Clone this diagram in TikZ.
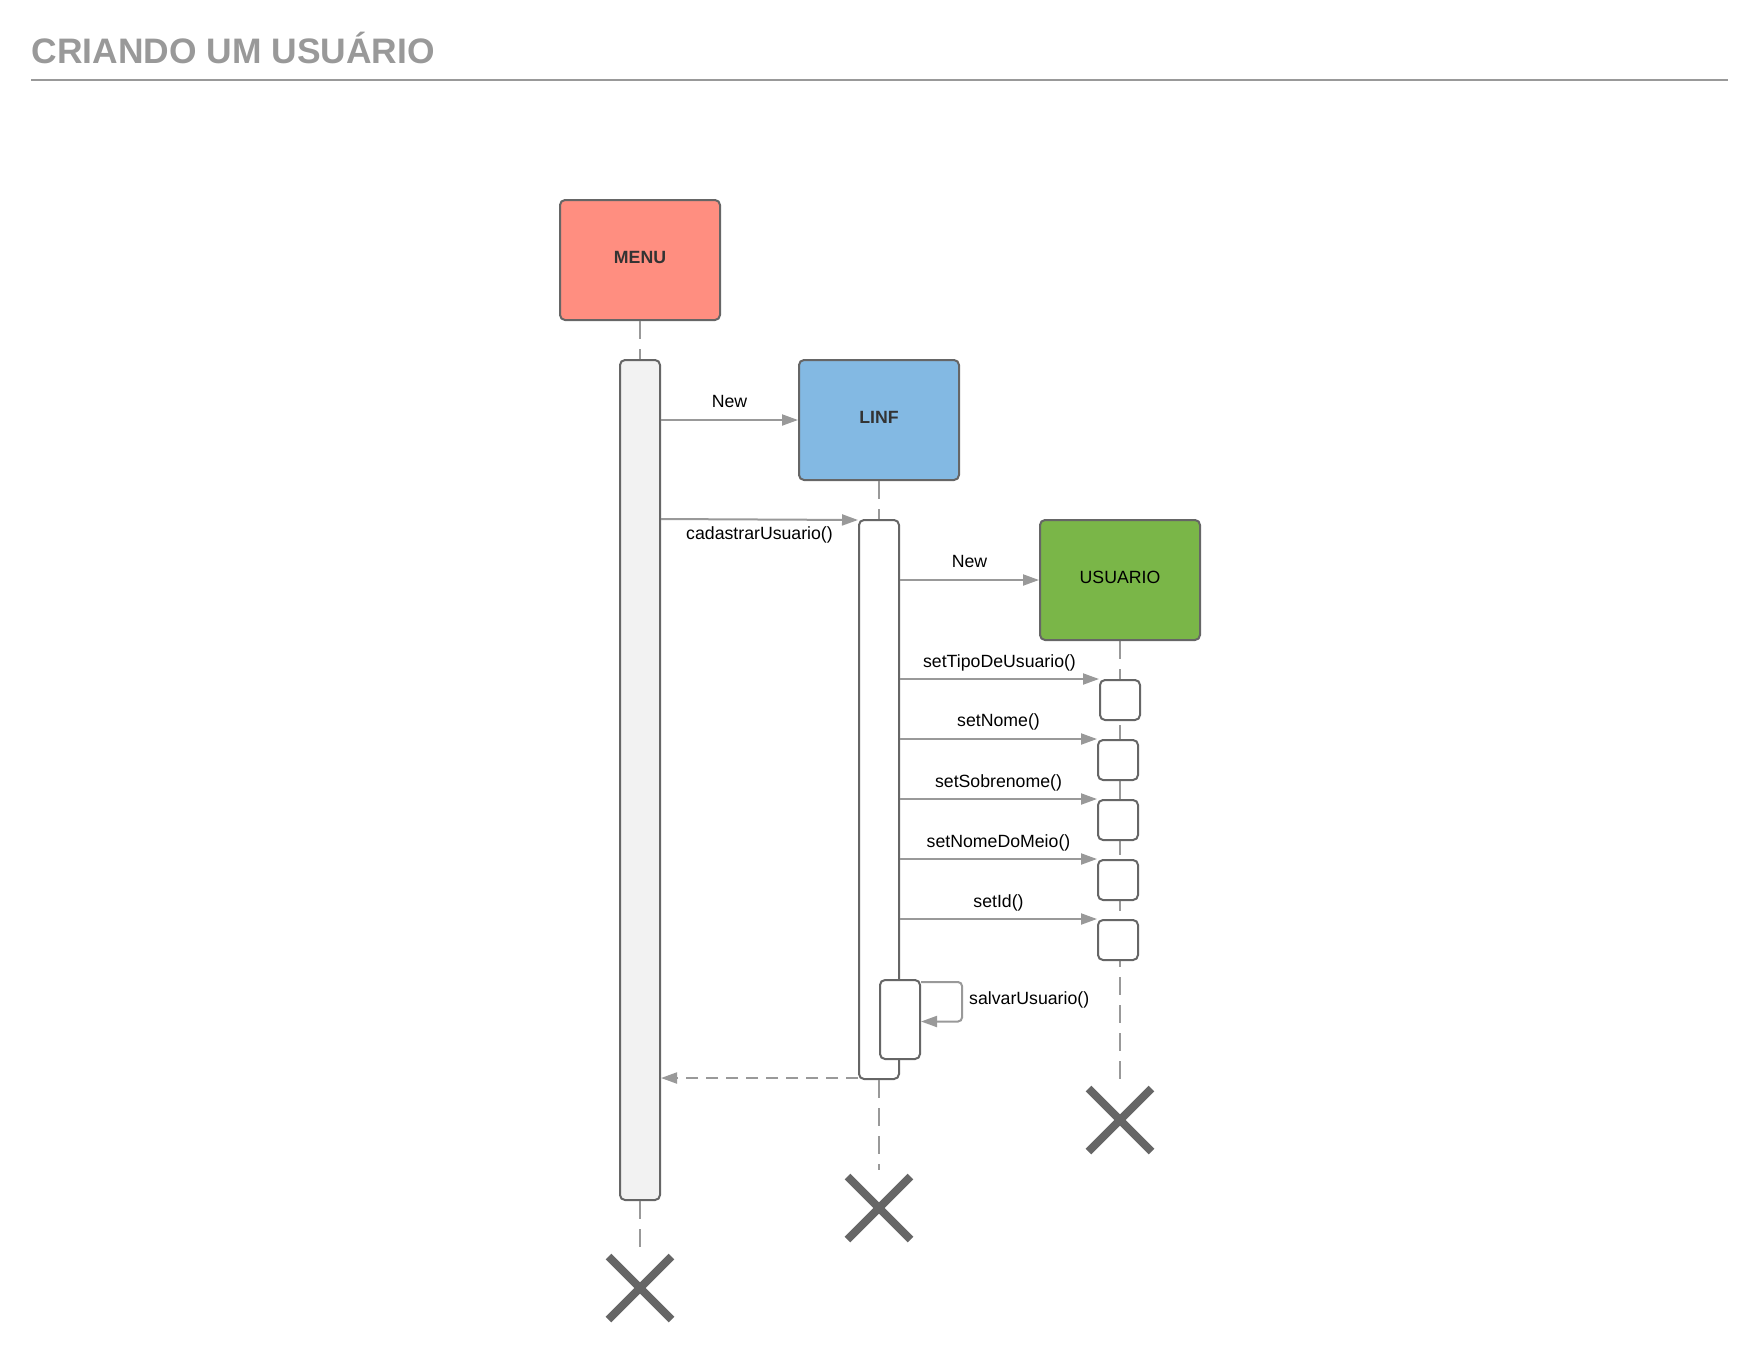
\documentclass[tikz,border=0pt]{standalone}
\usepackage{fontspec}
\setmainfont{Liberation Sans}
\usetikzlibrary{arrows.meta,shapes.misc,backgrounds}

\definecolor{menufill}{HTML}{FF8E80}
\definecolor{linffill}{HTML}{83B9E3}
\definecolor{usufill}{HTML}{7AB648}
\definecolor{barfill}{HTML}{F2F2F2}
\definecolor{edgegray}{HTML}{666666}
\definecolor{msggray}{HTML}{999999}
\definecolor{txtdark}{HTML}{333333}

\tikzset{
  obj/.style={draw=edgegray, line width=2pt, rounded corners=5pt, inner sep=0pt,
    minimum width=160pt, minimum height=120pt, text depth=5pt,
    font=\fontsize{17.7}{20}\selectfont},
  actbar/.style={draw=edgegray, line width=2pt, rounded corners=5pt, inner sep=0pt,
    minimum width=40pt, fill=white},
  msg/.style={draw=msggray, line width=2pt, -{Triangle[length=16pt,width=11pt]}},
  reply/.style={msg, dash pattern=on 12pt off 8pt},
  lifeline/.style={draw=msggray, line width=2pt, dash pattern=on 18pt off 10pt},
  endmark/.style={cross out, draw=edgegray, line width=8pt, minimum size=63pt,
    inner sep=0pt, outer sep=0pt},
  lbl/.style={font=\fontsize{17.7}{20}\selectfont, inner sep=0pt, text height=13pt, text depth=4pt}
}

\begin{document}
\begin{tikzpicture}[x=1pt,y=-1pt]
  \useasboundingbox (0,0) rectangle (1760,1360);

  % title
  \node[anchor=base west, inner sep=0pt, text=msggray,
    font=\fontsize{35.4}{40}\selectfont\bfseries] (title) at (31.5,63) {CRIANDO UM USUÁRIO};
  \draw[msggray, line width=2pt] (31,80) -- (1728,80);

  % objects
  \node[obj, fill=menufill, font=\fontsize{17.7}{20}\selectfont\bfseries, text=txtdark] (menu) at (640,260) {MENU};
  \node[obj, fill=linffill, font=\fontsize{17.7}{20}\selectfont\bfseries, text=txtdark] (linf) at (879,420) {LINF};
  \node[obj, fill=usufill] (usuario) at (1120,580) {USUARIO};

  % activation bars
  \node[actbar, fill=barfill, minimum height=840pt] (menubar) at (640,780) {};
  \node[actbar, minimum height=559pt] (linfbar) at (879,799.5) {};
  \node[actbar, minimum height=40pt] (s1) at (1120,700) {};
  \node[actbar, minimum height=40pt] (s2) at (1118,760) {};
  \node[actbar, minimum height=40pt] (s3) at (1118,820) {};
  \node[actbar, minimum height=40pt] (s4) at (1118,880) {};
  \node[actbar, minimum height=40pt] (s5) at (1118,940) {};
  \node[actbar, minimum height=79pt] (salvar) at (900,1019.5) {};

  % destruction
  \node[endmark] (menuend) at (640,1288) {};
  \node[endmark] (linfend) at (879,1208) {};
  \node[endmark] (usuend) at (1120,1120) {};

  % lifelines
  \draw[lifeline] (menu.south) -- (menubar.north);
  \draw[lifeline] (menubar.south) -- ([yshift=7pt]menuend.north);
  \draw[lifeline] (linf.south) -- (linfbar.north);
  \draw[lifeline] (linfbar.south) -- ([yshift=7pt]linfend.north);
  \begin{scope}[on background layer]
    \draw[lifeline] (usuario.south) -- ([yshift=7pt]usuend.north);
  \end{scope}

  % messages
  \draw[msg] (menubar.east |- linf.west) -- node[lbl, above=7.5pt] {New} (linf.west);
  \draw[msg] (menubar.east |- linfbar.north west) -- node[lbl, below=6pt] {cadastrarUsuario()} ([yshift=-1pt]linfbar.north west);
  \draw[msg] (linfbar.east |- usuario.west) -- node[lbl, above=7.5pt] {New} (usuario.west);
  \draw[msg] (linfbar.east |- s1.north west) -- node[lbl, above=7pt] {setTipoDeUsuario()} (s1.north west);
  \draw[msg] (linfbar.east |- s2.north west) -- node[lbl, above=7.5pt] {setNome()} (s2.north west);
  \draw[msg] (linfbar.east |- s3.north west) -- node[lbl, above=7pt] {setSobrenome()} (s3.north west);
  \draw[msg] (linfbar.east |- s4.north west) -- node[lbl, above=7pt] {setNomeDoMeio()} (s4.north west);
  \draw[msg] (linfbar.east |- s5.north west) -- node[lbl, above=7pt] {setId()} (s5.north west);

  % self call
  \draw[msg, rounded corners=4pt] ([yshift=-3pt]salvar.north east) -- ++(41,0)
    |- ([yshift=-2pt]salvar.east);
  \node[lbl, anchor=west] (salvarlbl) at (969,1000) {salvarUsuario()};

  % return
  \draw[reply] ([yshift=2pt]linfbar.south west) -- ([yshift=2pt]menubar.east |- linfbar.south west);
\end{tikzpicture}
\end{document}
